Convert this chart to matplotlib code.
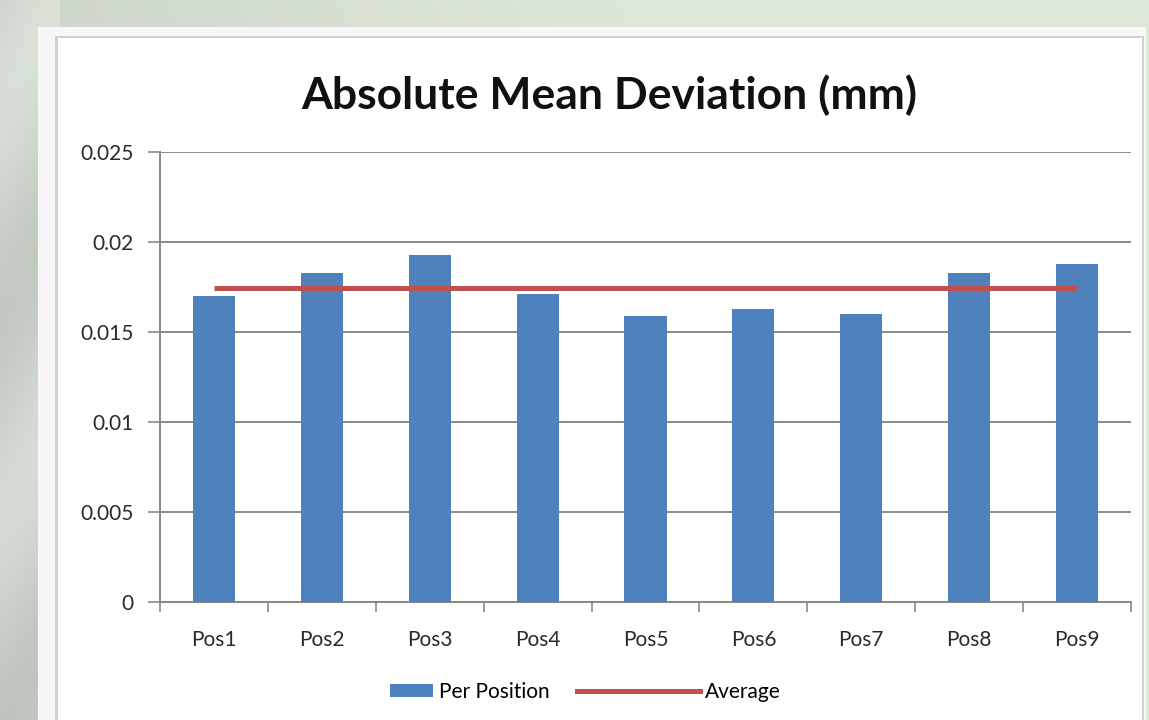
import numpy as np
import matplotlib
matplotlib.use("Agg")
import matplotlib.pyplot as plt
from matplotlib.patches import Rectangle, Patch
from matplotlib.lines import Line2D

categories = ["Pos1", "Pos2", "Pos3", "Pos4", "Pos5", "Pos6", "Pos7", "Pos8", "Pos9"]
per_position = [0.0170, 0.0183, 0.0193, 0.0171, 0.0159, 0.0163, 0.0160, 0.0183, 0.0188]
average = [0.01745] * 9
y_ticks = [0, 0.005, 0.01, 0.015, 0.02, 0.025]
y_tick_labels = ["0", "0.005", "0.01", "0.015", "0.02", "0.025"]

W, H = 1149, 720
fig = plt.figure(figsize=(W / 100, H / 100), dpi=100)

# background gradient
bg = fig.add_axes([0, 0, 1, 1], zorder=0)
bg.set_axis_off()
yy, xx = np.mgrid[0:H, 0:W]
c_left = np.array([0.78, 0.81, 0.78])
c_top = np.array([0.87, 0.91, 0.85])
t = np.clip((xx / W) * 1.3 + (1 - yy / H) * 0.3, 0, 1)[..., None]
img = c_left * (1 - t) + c_top * t
streak = 0.04 * np.sin((xx + yy * 0.6) / 40.0)[..., None]
img = np.clip(img + streak * (xx < 60)[..., None], 0, 1)
bg.imshow(img, extent=[0, W, H, 0], aspect="auto")
bg.set_xlim(0, W)
bg.set_ylim(H, 0)
# chart white box with shadow
bg.add_patch(Rectangle((38, 27), W - 38 - 3, H - 27, facecolor="#f7f7f7", edgecolor="none"))
bg.add_patch(Rectangle((55, 36), W - 55 - 5, H - 36, facecolor="#d0d0d0", edgecolor="none"))
bg.add_patch(Rectangle((58, 38), W - 58 - 7, H - 38, facecolor="white", edgecolor="none"))

ax = fig.add_axes([160 / W, 1 - 602 / H, (1131 - 160) / W, (602 - 152) / H], zorder=2)
ax.patch.set_alpha(0)
x = np.arange(len(categories))
bars = ax.bar(x, per_position, width=0.39, color="#4F81BD", zorder=3, label="Per Position")
line, = ax.plot(x, average, color="#C0504D", lw=3.6, zorder=4, label="Average", solid_capstyle="butt")

ax.set_xlim(-0.5, len(categories) - 0.5)
ax.set_ylim(0, 0.025)
ax.set_yticks(y_ticks)
ax.set_yticklabels(y_tick_labels)
ax.set_xticks(x)
ax.set_xticklabels(categories)
ax.set_xticks(np.arange(-0.5, len(categories), 1.0), minor=True)
ax.tick_params(axis="x", which="major", length=0, pad=20, labelsize=15, labelcolor="#2a2a2a")
ax.tick_params(axis="x", which="minor", length=7, width=1.2, color="#888888", direction="out")
ax.tick_params(axis="y", length=9, width=1.2, color="#888888", pad=10, labelsize=15, labelcolor="#2a2a2a")
ax.grid(axis="y", color="#8a8a8a", lw=1.4, zorder=1)
for s in ["top", "right"]:
    ax.spines[s].set_visible(False)
for s in ["left", "bottom"]:
    ax.spines[s].set_color("#888888")
    ax.spines[s].set_linewidth(1.4)
for lbl in ax.get_xticklabels() + ax.get_yticklabels():
    lbl.set_family("Lato")

fig.text(609 / W, 1 - 95 / H, "Absolute Mean Deviation (mm)", ha="center", va="center",
         fontsize=32, fontweight="bold", family="Lato", color="#111111")

leg_y = 1 - 692 / H
leg1 = fig.legend([Patch(facecolor="#4F81BD", edgecolor="none")], ["Per Position"],
                  loc="center left", bbox_to_anchor=(390 / W, leg_y), frameon=False,
                  prop={"family": "Lato", "size": 15}, handlelength=2.07, handleheight=0.6,
                  handletextpad=0.3, borderpad=0, borderaxespad=0)
leg2 = fig.legend([Line2D([0], [0], color="#C0504D", lw=3.6)], ["Average"],
                  loc="center left", bbox_to_anchor=(577 / W, leg_y), frameon=False,
                  prop={"family": "Lato", "size": 15}, handlelength=5.9,
                  handletextpad=0.25, borderpad=0, borderaxespad=0)

fig.savefig("out.png", dpi=100)
